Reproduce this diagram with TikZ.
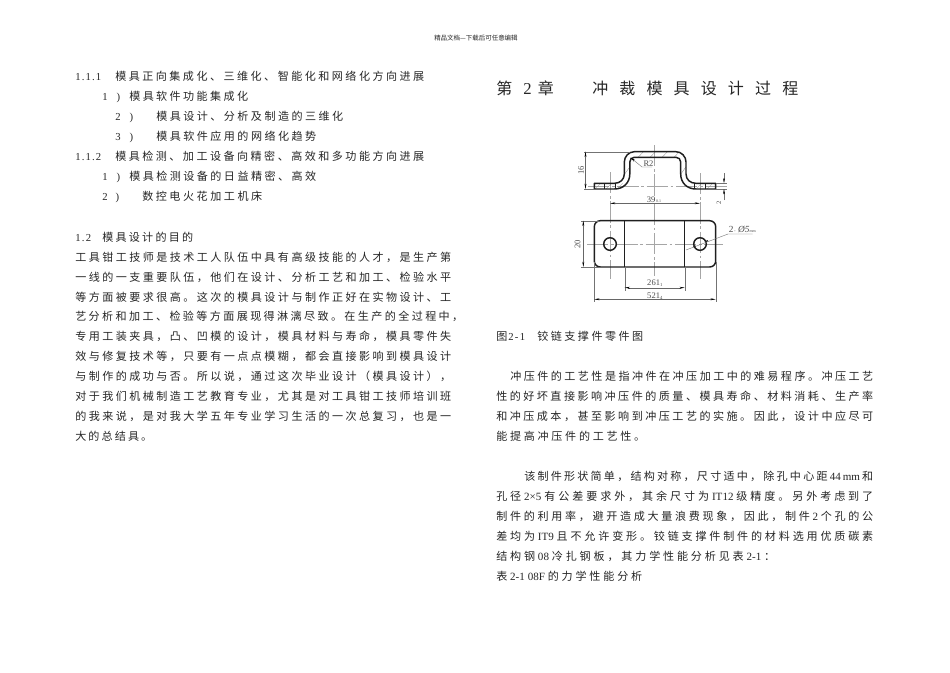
\documentclass[tikz,border=0pt]{standalone}
\usepackage{fontspec}
\setmainfont{Noto Sans CJK SC}
\newfontfamily\latf{Liberation Serif}
\usetikzlibrary{arrows.meta}
\newcount\segno
\def\sprmark{\relax}
\def\spr#1{#1\sprx}
\def\sprx#1{\def\tmp{#1}\ifx\tmp\sprmark\else\hfil#1\expandafter\sprx\fi}
\newcommand\lt[1]{{\latf #1}}
% segment of text stretched between two x values; y is the centre of the line
\newcommand\tseg[4]{\global\advance\segno by 1
  \node[txt,anchor=base west,name=t\the\segno] at (#1,#3+3.9) {\fontsize{8.3}{9}\selectfont\makebox[\dimexpr(#2pt-#1pt)*3/4\relax][s]{\spr#4\relax}};}
\newcommand\lseg[4]{\global\advance\segno by 1
  \node[txt,anchor=base west,name=t\the\segno] at (#1,#3+3.9) {\fontsize{8}{9}\latf\selectfont\makebox[\dimexpr(#2pt-#1pt)*3/4\relax][s]{\spr#4\relax}};}
\tikzset{
  txt/.style={inner sep=0pt,text=black!85},
  part/.style={draw=black!88,line width=1.1pt,line join=round},
  thinl/.style={draw=black!55,line width=.3pt},
  center line/.style={draw=black!35,line width=.3pt,dash pattern=on 16pt off 2pt on 2pt off 2pt},
  dimn/.style={draw=black!60,line width=.3pt,{Stealth[length=4pt,width=1.4pt,black]}-{Stealth[length=4pt,width=1.4pt,black]}},
  hatch/.style={draw=black!45,line width=.25pt},
  lab/.style={inner sep=0pt,text=black!70,font=\latf\fontsize{6.4}{7}\selectfont},
}
\begin{document}
\begin{tikzpicture}[x=0.75pt,y=-0.75pt]
\useasboundingbox (0,0) rectangle (950,672);
\fill[white] (0,0) rectangle (950,672);
% header
\node[txt,anchor=base west,name=head] at (434,40) {\fontsize{4.85}{5}\selectfont 精品文档---下载后可任意编辑};
% left column
\lseg{75}{101}{77}{1.1.1}
\tseg{115}{424}{77}{模具正向集成化、三维化、智能化和网络化方向进展}
\lseg{102}{120}{97}{1)}
\tseg{129}{248}{97}{模具软件功能集成化}
\lseg{115}{133}{117}{2)}
\tseg{156}{343}{117}{模具设计、分析及制造的三维化}
\lseg{115}{133}{137}{3)}
\tseg{156}{316}{137}{模具软件应用的网络化趋势}
\lseg{75}{101}{157}{1.1.2}
\tseg{115}{424}{157}{模具检测、加工设备向精密、高效和多功能方向进展}
\lseg{102}{120}{177}{1)}
\tseg{129}{316}{177}{模具检测设备的日益精密、高效}
\lseg{102}{119}{197}{2)}
\tseg{142}{262}{197}{数控电火花加工机床}
\lseg{75}{91}{237.5}{1.2}
\tseg{102}{193}{237.5}{模具设计的目的}
\tseg{75}{451}{257.5}{工具钳工技师是技术工人队伍中具有高级技能的人才，是生产第}
\tseg{75}{451}{277.5}{一线的一支重要队伍，他们在设计、分析工艺和加工、检验水平}
\tseg{75}{451}{297.5}{等方面被要求很高。这次的模具设计与制作正好在实物设计、工}
\tseg{75}{463}{317}{艺分析和加工、检验等方面展现得淋漓尽致。在生产的全过程中，}
\tseg{75}{451}{337}{专用工装夹具，凸、凹模的设计，模具材料与寿命，模具零件失}
\tseg{75}{451}{357}{效与修复技术等，只要有一点点模糊，都会直接影响到模具设计}
\tseg{75}{451}{377}{与制作的成功与否。所以说，通过这次毕业设计（模具设计），}
\tseg{75}{451}{397}{对于我们机械制造工艺教育专业，尤其是对工具钳工技师培训班}
\tseg{75}{451}{417}{的我来说，是对我大学五年专业学习生活的一次总复习，也是一}
\tseg{75}{152}{437}{大的总结具。}
% title
\node[txt,anchor=base west,name=ti1] at (496,94) {\fontsize{12}{14}\selectfont 第};
\node[txt,anchor=base west,name=ti2] at (523,94) {\fontsize{12.5}{14}\latf\selectfont 2};
\node[txt,anchor=base west,name=ti3] at (537.5,94) {\fontsize{12}{14}\selectfont 章};
\node[txt,anchor=base west,name=ti4] at (592,94) {\fontsize{12}{14}\selectfont\makebox[154.5pt][s]{\spr 冲裁模具设计过程\relax}};
% caption
\lseg{508}{525}{337}{2-1}
\tseg{496}{507}{337}{图}
\tseg{537}{643}{337}{铰链支撑件零件图}
% right column
\tseg{510}{873}{377}{冲压件的工艺性是指冲件在冲压加工中的难易程序。冲压工艺}
\tseg{496}{873}{397}{性的好坏直接影响冲压件的质量、模具寿命、材料消耗、生产率}
\tseg{496}{873}{417}{和冲压成本，甚至影响到冲压工艺的实施。因此，设计中应尽可}
\tseg{496}{645}{437}{能提高冲压件的工艺性。}
\tseg{524}{873}{477}{该制件形状简单，结构对称，尺寸适中，除孔中心距{\lt{44}\,\lt{mm}}和}
\tseg{496}{873}{497}{孔径{\lt{2×5}}有公差要求外，其余尺寸为{\lt{IT12}}级精度。另外考虑到了}
\tseg{496}{873}{517}{制件的利用率，避开造成大量浪费现象，因此，制件{\lt{2}}个孔的公}
\tseg{496}{873}{537}{差均为{\lt{IT9}}且不允许变形。铰链支撑件制件的材料选用优质碳素}
\tseg{496}{775}{557}{结构钢{\lt{08}}冷扎钢板，其力学性能分析见表{\lt{2-1}}：}
\tseg{496}{642}{577}{表{\lt{2-1}}{\lt{08F}}的力学性能分析}
% centre lines
\draw[center line] (654.3,145) -- (654.3,276);
\draw[center line] (610,172) -- (610,279);
\draw[center line] (700,173) -- (700,279);
\draw[center line] (587,244) -- (723,244);
\draw[center line] (588,186) -- (728,186);
% hatching of the section
\foreach \x in {638,650,662,674} \draw[hatch] (\x,157.3) -- (\x+5.5,151.7);
\draw[hatch] (624.6,174) -- (629.8,167); \draw[hatch] (680.9,174) -- (685.8,167);
\foreach \x in {595,606,617,696,707} \draw[hatch] (\x,189) -- (\x+5.7,183.3);
% section of the part
\draw[part] (594.3,183.3) -- (614.5,183.3) .. controls (620,183.3) and (624.3,179.5) .. (624.3,174)
  -- (624.3,162) .. controls (624.3,156.5) and (628.8,151.7) .. (634.3,151.7)
  -- (676,151.7) .. controls (681.5,151.7) and (686,156.5) .. (686,162)
  -- (686,174) .. controls (686,179.5) and (690.3,183.3) .. (695.8,183.3)
  -- (715.7,183.3) -- (715.7,189) -- (695.8,189)
  .. controls (687,189) and (680.7,182.8) .. (680.7,174)
  -- (680.7,162) .. controls (680.7,159.3) and (678.7,157.3) .. (676,157.3)
  -- (634.3,157.3) .. controls (631.6,157.3) and (629.8,159.3) .. (629.8,162)
  -- (629.8,174) .. controls (629.8,182.8) and (623.3,189) .. (614.5,189)
  -- (594.3,189) -- cycle;
\draw[part,line width=.7pt] (604,183.3) -- (604,189) (615.5,183.3) -- (615.5,189) (694.5,183.3) -- (694.5,189) (705.8,183.3) -- (705.8,189);
% front view
\draw[part,rounded corners=4.5pt] (594.3,220.7) rectangle (715.7,267);
\draw[part] (624.7,220.7) -- (624.7,267) (684.7,220.7) -- (684.7,267);
\draw[part] (610,244) circle[radius=6.3];
\draw[part] (700,244) circle[radius=6.3];
% dimension 16
\draw[thinl] (584,151.7) -- (630,151.7) (584,189) -- (594,189);
\draw[dimn] (585.5,151.7) -- (585.5,189);
\node[lab,rotate=90,name=d16] at (581,170) {16};
% R2
\draw[thinl,{Stealth[length=4pt,width=1.4pt,black]}-] (630.5,157.5) -- (642,167) -- (652,167);
\node[lab,name=dr2] at (648.5,163.3) {R2};
% dimension 2 (thickness)
\draw[thinl] (716,183.3) -- (727,183.3) (716,189) -- (727,189);
\draw[thinl,-{Stealth[length=4pt,width=1.4pt,black]}] (724,173) -- (724,183.3);
\draw[thinl,-{Stealth[length=4pt,width=1.4pt,black]}] (724,200) -- (724,189);
\node[lab,rotate=90,name=d2] at (719,203) {\fontsize{5}{6}\selectfont 2};
% dimension 39
\draw[dimn] (610,203.3) -- (700,203.3);
\node[lab,name=d39] at (654,199.5) {39\fontsize{3}{4}\selectfont\,0.1};
% dimension 20
\draw[thinl] (581,220.7) -- (600,220.7) (581,267) -- (600,267);
\draw[dimn] (583.3,220.7) -- (583.3,267);
\node[lab,rotate=90,name=d20] at (577.5,244) {20};
% dimension 26
\draw[thinl] (624.7,267) -- (624.7,291) (684.7,267) -- (684.7,291);
\draw[dimn] (624.7,287.7) -- (684.7,287.7);
\node[lab,name=d26] at (654.8,283) {261\raisebox{-1pt}{\fontsize{3.5}{4}\selectfont 1}};
% dimension 52
\draw[thinl] (594.3,262) -- (594.3,302) (715.7,262) -- (715.7,302);
\draw[dimn] (594.3,299.3) -- (715.7,299.3);
\node[lab,name=d52] at (654.8,296) {521\raisebox{-1pt}{\fontsize{3.5}{4}\selectfont 4}};
% hole leader
\draw[thinl] (686,250) -- (728,234) -- (752.7,234);
\draw[line width=.9pt,black!85] (693.5,246.8) -- (695.5,246) (705,241.8) -- (708,240.6);
\node[lab,anchor=base west,name=dh] at (728.5,232) {\fontsize{7}{8}\selectfont 2\fontsize{3.5}{4}\selectfont\,-\fontsize{7}{8}\selectfont\ \itshape Ø5\upshape\fontsize{3}{4}\selectfont mm};
\end{tikzpicture}
\end{document}
